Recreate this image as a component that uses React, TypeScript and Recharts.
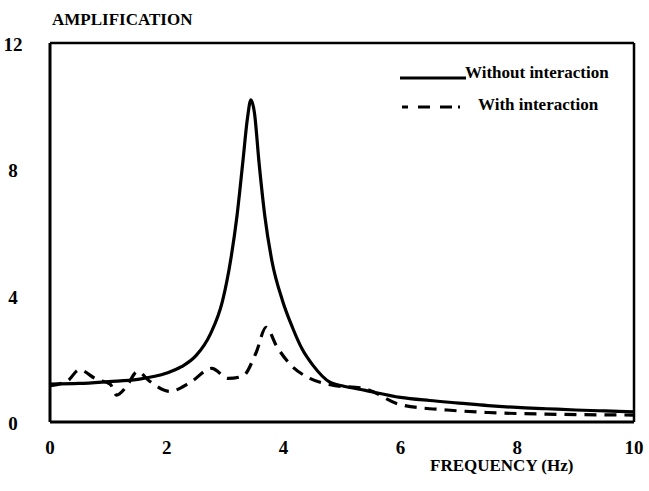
import { LineChart, Line, XAxis, YAxis, ReferenceLine } from 'recharts';

const freqWithout = [0, 0.5, 1, 1.5, 2, 2.25, 2.5, 2.75, 2.95, 3.1, 3.2, 3.3, 3.38, 3.44, 3.5, 3.58, 3.68, 3.8, 3.98, 4.15, 4.32, 4.5, 4.8, 5.0, 5.4, 6, 6.5, 7, 7.5, 8, 8.5, 9, 9.5, 10];
const ampWithout = [1.2, 1.22, 1.28, 1.35, 1.55, 1.75, 2.1, 2.8, 3.8, 5.2, 6.5, 8.2, 9.6, 10.2, 9.8, 8.2, 6.5, 5.1, 3.85, 3.0, 2.3, 1.8, 1.25, 1.15, 1.0, 0.78, 0.68, 0.6, 0.52, 0.46, 0.42, 0.38, 0.35, 0.32];

const freqWith = [0, 0.3, 0.5, 0.8, 1.03, 1.14, 1.3, 1.5, 1.7, 2.05, 2.4, 2.77, 3.05, 3.3, 3.53, 3.7, 3.88, 4.1, 4.45, 4.8, 5.4, 6, 6.8, 7.5, 8.5, 10];
const ampWith = [1.15, 1.3, 1.65, 1.35, 1.2, 0.85, 1.1, 1.6, 1.3, 0.97, 1.25, 1.7, 1.38, 1.45, 2.2, 3.0, 2.4, 1.85, 1.38, 1.18, 1.05, 0.55, 0.38, 0.3, 0.25, 0.22];

const xTicks = [0, 2, 4, 6, 8, 10];
const yTicks = [0, 4, 8, 12];

const seriesWithout = freqWithout.map((f, i) => ({ f, v: ampWithout[i] }));
const seriesWith = freqWith.map((f, i) => ({ f, v: ampWith[i] }));

const FONT = '"Liberation Serif", "DejaVu Serif", "Times New Roman", Times, serif';

function XTick({ x, y, payload }: any) {
  return (
    <text x={x} y={y + 24} textAnchor="middle" fontFamily={FONT} fontWeight="bold" fontSize={19} fill="#000">
      {payload.value}
    </text>
  );
}

function YTick({ x, y, payload }: any) {
  return (
    <text x={x - 29} y={y + 8} textAnchor="middle" fontFamily={FONT} fontWeight="bold" fontSize={19} fill="#000">
      {payload.value}
    </text>
  );
}

const txt = { fontFamily: FONT, fontWeight: 'bold' as const, fontSize: 17, color: '#000', whiteSpace: 'nowrap' as const };

export default function App() {
  return (
    <div style={{ position: 'absolute', left: 0, top: 0, width: 649, height: 491, background: '#fff' }}>
      <LineChart width={649} height={491} margin={{ top: 43, right: 15, bottom: 0, left: 0 }}>
        <XAxis
          dataKey="f" type="number" domain={[0, 10]} ticks={xTicks} allowDuplicatedCategory={false}
          height={69} tickLine={false} axisLine={{ stroke: '#000', strokeWidth: 3 }} tick={<XTick />}
        />
        <YAxis
          type="number" domain={[0, 12]} ticks={yTicks} width={50}
          tickLine={false} axisLine={{ stroke: '#000', strokeWidth: 3 }} tick={<YTick />}
        />
        <ReferenceLine y={12} stroke="#000" strokeWidth={2.5} />
        <ReferenceLine x={10} stroke="#000" strokeWidth={2.5} />
        <Line data={seriesWithout} dataKey="v" type="monotone" stroke="#000" strokeWidth={3.2} dot={false} isAnimationActive={false} />
        <Line data={seriesWith} dataKey="v" type="monotone" stroke="#000" strokeWidth={3.2} strokeDasharray="12 8" dot={false} isAnimationActive={false} />
      </LineChart>
      <svg width={70} height={60} style={{ position: 'absolute', left: 398, top: 62 }}>
        <line x1={2} y1={16} x2={68} y2={16} stroke="#000" strokeWidth={3} />
        <line x1={4} y1={45} x2={62} y2={45} stroke="#000" strokeWidth={3} strokeDasharray="6 10 12 10 12" />
      </svg>
      <div style={{ ...txt, position: 'absolute', left: 465, top: 63 }}>Without interaction</div>
      <div style={{ ...txt, position: 'absolute', left: 478, top: 95 }}>With interaction</div>
      <div style={{ ...txt, position: 'absolute', left: 52, top: 10 }}>AMPLIFICATION</div>
      <div style={{ ...txt, position: 'absolute', left: 430, top: 456 }}>FREQUENCY (Hz)</div>
    </div>
  );
}
